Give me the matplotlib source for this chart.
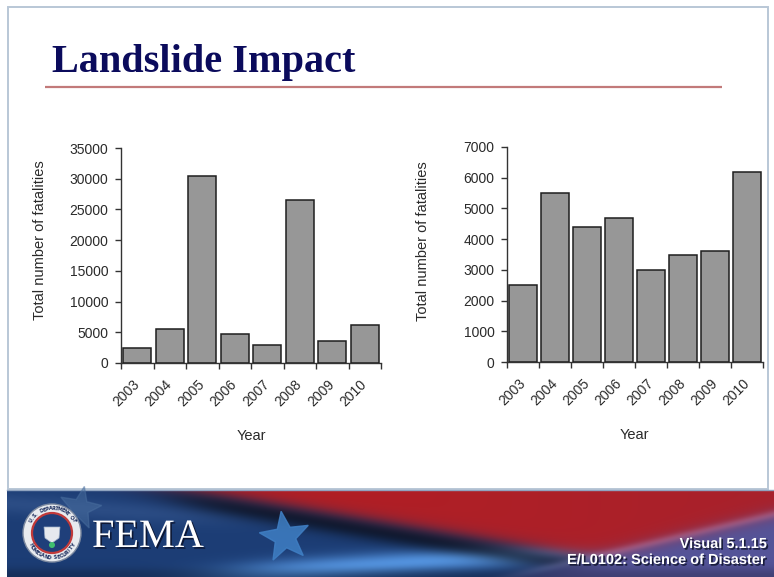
import numpy as np
import matplotlib
matplotlib.use("Agg")
import matplotlib.pyplot as plt
from matplotlib.patches import Rectangle, Circle, Polygon
import matplotlib.patheffects as pe

# ---- data ----
years = ["2003", "2004", "2005", "2006", "2007", "2008", "2009", "2010"]
fatalities_all = [2500, 5500, 30500, 4700, 3000, 26500, 3600, 6200]
fatalities_excl = [2500, 5500, 4400, 4700, 3000, 3500, 3600, 6200]
left_yticks = [0, 5000, 10000, 15000, 20000, 25000, 30000, 35000]
right_yticks = [0, 1000, 2000, 3000, 4000, 5000, 6000, 7000]

title_text = "Landslide Impact"
y_label = "Total number of fatalities"
x_label = "Year"
footer_lines = ["Visual 5.1.15", "E/L0102: Science of Disaster"]

W, H = 774, 577
fig = plt.figure(figsize=(W / 100, H / 100), dpi=100)
fig.patch.set_facecolor("white")

# pixel-space layer for the slide decoration
bg = fig.add_axes([0, 0, 1, 1], zorder=0)
bg.set_xlim(0, W)
bg.set_ylim(H, 0)
bg.axis("off")

# content panel frame
bg.add_patch(Rectangle((8, 7), 760, 482, fill=False, edgecolor="#b9c7d6", lw=1.4))

# title and rule
bg.text(52, 72, title_text, fontsize=29, fontweight="bold", color="#0b0b5c",
        family="Liberation Serif", va="baseline", ha="left")
bg.plot([45, 722], [87, 87], color="#c27a7a", lw=1.6, solid_capstyle="butt")

# ---- footer banner ----
bh, bw = 87, 767
u = np.linspace(0, 1, bw)[None, :]
v = np.linspace(0, 1, bh)[:, None]


def sig(z):
    return 1 / (1 + np.exp(-z))


blue_dark = np.array([0.11, 0.24, 0.46])
blue_light = np.array([0.33, 0.58, 0.88])
red = np.array([0.72, 0.11, 0.12])
red_r = np.array([0.66, 0.13, 0.17])
purple = np.array([0.33, 0.33, 0.60])

img = np.ones((bh, bw, 3)) * blue_dark
# soft streaks on the blue field
streak = np.exp(-((v - (0.15 + 0.6 * u)) / 0.12) ** 2) * sig((0.28 - u) / 0.04)
img = img + streak[..., None] * 0.06
# light-blue sweep under the red fold
sweep_c = 0.97 - (u - 0.28) * 0.55
sweep = np.exp(-((v - sweep_c) / 0.13) ** 2) * sig((u - 0.30) / 0.04) * sig((0.85 - u) / 0.05)
img = img * (1 - sweep[..., None]) + blue_light * sweep[..., None]
# red fold
v_b = (u - 0.24) * 1.5
m_red = sig((v_b - v) / 0.05)
redcol = red * (1 - u[..., None]) + red_r * u[..., None]
img = img * (1 - m_red[..., None]) + redcol * m_red[..., None]
# dark shade right beneath the red edge
shade = np.exp(-((v - v_b - 0.12) / 0.12) ** 2) * sig((u - 0.22) / 0.03)
img = img * (1 - 0.55 * shade[..., None])
# purple lower right with a lighter diagonal streak
w_b = 0.95 - (u - 0.68) * 2.1
m_pur = sig((v - w_b) / 0.05) * sig((u - 0.66) / 0.03)
img = img * (1 - m_pur[..., None]) + purple * m_pur[..., None]
band = np.exp(-((v - w_b) / 0.05) ** 2) * sig((u - 0.66) / 0.03)
img = img + band[..., None] * 0.10
# darker bottom edge
img = img * (1 - 0.25 * sig((v - 0.92) / 0.03))[..., None]
img = np.clip(img, 0, 1)
bg.imshow(img, extent=(7, 774, 577, 490), aspect="auto", zorder=1, interpolation="bilinear")
bg.plot([7, 774], [490, 490], color="#8fa3bf", lw=1.0, zorder=2)


def star(cx, cy, r, rot=0.0):
    pts = []
    for k in range(10):
        rr = r if k % 2 == 0 else r * 0.42
        a = np.pi / 2 + rot + k * np.pi / 5
        pts.append((cx + rr * np.cos(a), cy - rr * np.sin(a)))
    return pts


bg.add_patch(Polygon(star(285, 537, 26, 0.15), closed=True, color="#3f7fc4", alpha=0.85, zorder=2))
bg.add_patch(Polygon(star(80, 508, 22, -0.2), closed=True, color="#4a6f9f", alpha=0.5, zorder=2))

# seal
cx, cy = 52, 533
bg.add_patch(Circle((cx, cy), 29, facecolor="#e8ebef", edgecolor="#7d8aa0", lw=1.0, zorder=3))
bg.add_patch(Circle((cx, cy), 20, facecolor="#1f3f7a", edgecolor="#c23a3a", lw=1.6, zorder=4))
bg.add_patch(Polygon([(cx - 8, cy - 6), (cx + 8, cy - 6), (cx + 7, cy + 5), (cx, cy + 10), (cx - 7, cy + 5)],
                     closed=True, facecolor="#e6e9ee", edgecolor="#9fb0c8", lw=0.5, zorder=5))
bg.add_patch(Circle((cx, cy + 12), 3.0, facecolor="#3fbf6f", zorder=5))
ring_top = "U.S. DEPARTMENT OF"
for i, ch in enumerate(ring_top):
    a = np.deg2rad(150 - i * 120 / (len(ring_top) - 1))
    bg.text(cx + 24.5 * np.cos(a), cy - 24.5 * np.sin(a), ch, fontsize=3.6, color="#1f3060",
            ha="center", va="center", rotation=np.rad2deg(a) - 90, zorder=6, fontweight="bold")
ring_bot = "HOMELAND SECURITY"
for i, ch in enumerate(ring_bot):
    a = np.deg2rad(210 + i * 120 / (len(ring_bot) - 1))
    bg.text(cx + 24.5 * np.cos(a), cy - 24.5 * np.sin(a), ch, fontsize=3.6, color="#1f3060",
            ha="center", va="center", rotation=np.rad2deg(a) + 90, zorder=6, fontweight="bold")

shadow = [pe.withSimplePatchShadow(offset=(1.2, -1.2), shadow_rgbFace="#0a0f25", alpha=0.8)]
bg.text(92, 547, "FEMA", fontsize=29, color="white", family="Liberation Serif",
        va="baseline", ha="left", zorder=6, path_effects=shadow)
bg.text(767, 548, footer_lines[0], fontsize=10.5, fontweight="bold", color="white",
        family="Liberation Sans", ha="right", va="baseline", zorder=6, path_effects=shadow)
bg.text(767, 564, footer_lines[1], fontsize=10.5, fontweight="bold", color="white",
        family="Liberation Sans", ha="right", va="baseline", zorder=6, path_effects=shadow)


# ---- charts ----
def bar_panel(rect, values, yticks, ylab_xy, xlab_xy):
    ax = fig.add_axes(rect, zorder=3)
    ax.patch.set_alpha(0)
    x = np.arange(len(years))
    ax.bar(x, values, width=0.86, color="#979797", edgecolor="#1e1e1e", linewidth=1.1, zorder=3)
    ax.set_xlim(-0.5, len(years) - 0.5)
    ax.set_ylim(0, yticks[-1])
    ax.set_yticks(yticks)
    ax.set_yticklabels([str(t) for t in yticks])
    ax.set_xticks(np.arange(len(years) + 1) - 0.5)
    ax.set_xticklabels([])
    ax.set_xticks(x, minor=True)
    ax.set_xticklabels(years, minor=True, rotation=45, ha="right", va="center",
                       rotation_mode="anchor")
    ax.tick_params(axis="x", which="major", direction="out", length=4, width=1, color="#333333")
    ax.tick_params(axis="x", which="minor", length=0, pad=14, labelsize=10, labelcolor="#2a2a2a")
    ax.tick_params(axis="y", direction="out", length=4, width=1, color="#333333",
                   labelsize=10, labelcolor="#2a2a2a", pad=5)
    for lab in ax.get_xticklabels(minor=True) + ax.get_yticklabels():
        lab.set_family("Liberation Sans")
    for s in ("top", "right"):
        ax.spines[s].set_visible(False)
    for s in ("left", "bottom"):
        ax.spines[s].set_color("#333333")
        ax.spines[s].set_linewidth(1.0)
    ax.set_ylabel(y_label, fontsize=10.5, color="#2a2a2a", family="Liberation Sans",
                  va="center", ha="center")
    ax.set_xlabel(x_label, fontsize=10.5, color="#2a2a2a", family="Liberation Sans",
                  va="center", ha="center")
    ax.yaxis.set_label_coords(*ylab_xy)
    ax.xaxis.set_label_coords(*xlab_xy)
    return ax


bar_panel([121 / W, (H - 363) / H, 260 / W, 215 / H], fatalities_all, left_yticks,
          (-0.31, 0.57), (0.5, -0.34))
bar_panel([507 / W, (H - 362) / H, 256 / W, 215 / H], fatalities_excl, right_yticks,
          (-0.33, 0.56), (0.496, -0.34))

fig.savefig("out.png", dpi=100, facecolor="white")
